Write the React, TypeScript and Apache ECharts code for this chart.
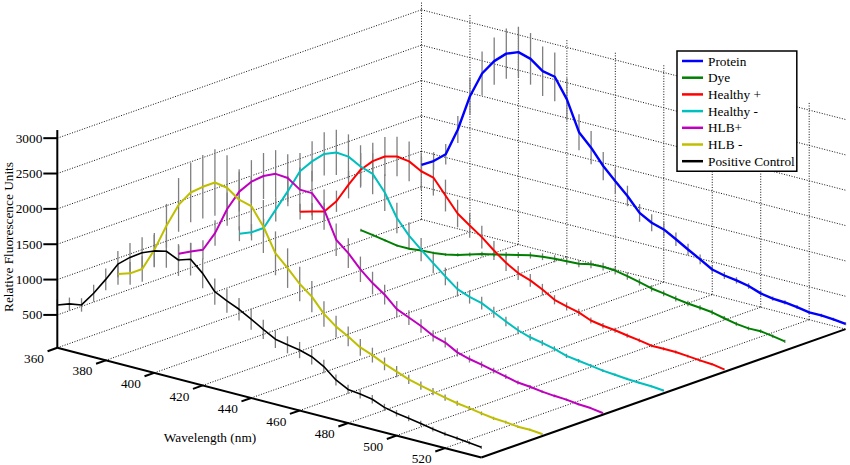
import React, { useEffect, useRef } from "react";
import * as echarts from "echarts";

// ---------------- data ----------------
const wavelengths = [360, 365, 370, 375, 380, 385, 390, 395, 400, 405, 410, 415, 420, 425, 430, 435, 440, 445, 450, 455, 460, 465, 470, 475, 480, 485, 490, 495, 500, 505, 510, 515, 520, 525, 530, 535];
const wavelengthTicks = [360, 380, 400, 420, 440, 460, 480, 500, 520];
const fluorescenceTicks = [500, 1000, 1500, 2000, 2500, 3000];

const seriesNames = ["Protein", "Dye", "Healthy +", "Healthy -", "HLB+", "HLB -", "Positive Control"];
const seriesColors = ["#0000ff", "#008000", "#ff0000", "#00bfbf", "#bf00bf", "#bfbf00", "#000000"];
const seriesDepth = [7, 6, 5, 4, 3, 2, 1];

const protein = [805, 905, 1045, 1440, 1955, 2320, 2540, 2690, 2755, 2705, 2575, 2540, 2265, 1845, 1670, 1455, 1285, 1120, 925, 830, 780, 685, 585, 490, 390, 350, 325, 290, 230, 200, 190, 170, 140, 140, 130, 110];
const proteinErr = [110, 125, 145, 190, 260, 310, 335, 355, 360, 365, 350, 345, 300, 255, 235, 200, 180, 145, 125, 120, 105, 95, 80, 70, 55, 50, 45, 40, 35, 30, 30, 28, 25, 25, 22, 20];

const dye = [185, 160, 130, 100, 100, 120, 130, 150, 190, 240, 290, 330, 370, 410, 450, 475, 490, 500, 510, 545, 555, 545, 510, 470, 425, 400, 370, 345, 330, 310, 270, 235, 215, 220, 195, 165];
const dyeErr = [20, 18, 16, 15, 15, 16, 18, 20, 24, 28, 32, 36, 40, 42, 45, 48, 50, 50, 52, 55, 55, 55, 52, 48, 45, 42, 40, 38, 36, 34, 30, 28, 26, 26, 24, 22];

const healthyPos = [750, 795, 840, 1030, 1310, 1565, 1730, 1840, 1885, 1860, 1765, 1720, 1510, 1300, 1175, 1055, 910, 780, 680, 620, 535, 435, 385, 345, 275, 245, 225, 195, 170, 140, 140, 140, 125, 110, 100, 70];
const healthyPosErr = [110, 120, 125, 150, 195, 235, 260, 275, 280, 280, 265, 255, 225, 195, 175, 160, 135, 115, 100, 90, 80, 65, 58, 52, 42, 38, 34, 30, 26, 22, 22, 22, 20, 18, 16, 12];

const healthyNeg = [740, 805, 910, 1215, 1520, 1845, 2030, 2180, 2245, 2230, 2135, 2075, 1855, 1540, 1335, 1180, 1035, 890, 755, 690, 645, 560, 475, 395, 340, 305, 265, 210, 185, 160, 135, 120, 105, 95, 90, 75];
const healthyNegErr = [105, 115, 130, 170, 215, 260, 285, 305, 320, 315, 300, 290, 260, 215, 190, 165, 145, 125, 105, 95, 90, 78, 66, 55, 48, 42, 37, 30, 26, 22, 20, 18, 16, 14, 13, 12];

const hlbPos = [760, 835, 905, 1185, 1570, 1860, 2045, 2170, 2245, 2230, 2110, 2105, 1915, 1535, 1390, 1205, 1055, 935, 775, 700, 625, 530, 480, 385, 335, 300, 260, 220, 180, 165, 140, 125, 115, 95, 85, 60];
const hlbPosErr = [115, 125, 135, 180, 235, 280, 305, 325, 335, 335, 315, 315, 285, 230, 210, 180, 160, 140, 115, 105, 95, 80, 72, 58, 50, 45, 40, 33, 27, 25, 21, 19, 17, 15, 13, 10];

const hlbNeg = [775, 830, 935, 1250, 1635, 1975, 2195, 2320, 2425, 2395, 2270, 2225, 1980, 1645, 1480, 1300, 1165, 965, 830, 735, 625, 560, 480, 415, 350, 305, 265, 225, 190, 165, 135, 110, 100, 80, 80, 65];
const hlbNegErr = [150, 160, 180, 240, 310, 380, 420, 450, 470, 460, 430, 420, 375, 310, 280, 245, 220, 180, 155, 140, 120, 105, 90, 80, 66, 58, 50, 43, 36, 31, 26, 21, 19, 15, 15, 12];

const positiveControl = [640, 700, 730, 940, 1180, 1440, 1580, 1690, 1760, 1800, 1720, 1775, 1620, 1405, 1320, 1245, 1150, 1050, 955, 920, 890, 840, 745, 600, 510, 490, 460, 390, 350, 325, 295, 260, 235, 220, 200, 180];
const positiveControlErr = [85, 90, 95, 120, 155, 185, 205, 220, 230, 235, 225, 230, 210, 185, 170, 160, 150, 135, 125, 120, 115, 110, 95, 78, 66, 64, 60, 50, 45, 42, 38, 34, 30, 28, 26, 23];

const seriesValues = [protein, dye, healthyPos, healthyNeg, hlbPos, hlbNeg, positiveControl];
const seriesErrors = [proteinErr, dyeErr, healthyPosErr, healthyNegErr, hlbPosErr, hlbNegErr, positiveControlErr];

// ---------------- 3D box (axis limits) and projection ----------------
const WL_MIN = 360;
const WL_MAX = 535;
const DEPTH_MIN = 1;
const DEPTH_MAX = 7;
const Z_MIN = 35;
const Z_MAX = 3115;

const ORIGIN_X = 57.3;
const ORIGIN_Y = 347.8;
const WL_DX = 2.423;
const WL_DY = 0.627;
const DEPTH_DX = 60.7;
const DEPTH_DY = -21.4;
const Z_DY = -0.0707;

function project(wl: number, d: number, z: number): number[] {
  return [
    ORIGIN_X + (wl - WL_MIN) * WL_DX + (d - DEPTH_MIN) * DEPTH_DX,
    ORIGIN_Y + (wl - WL_MIN) * WL_DY + (d - DEPTH_MIN) * DEPTH_DY + (z - Z_MIN) * Z_DY,
  ];
}

const FONT = "'Liberation Serif', 'Times New Roman', Times, serif";
const FONT_SIZE = 13.3;

export default function App() {
  const ref = useRef<HTMLDivElement>(null);

  useEffect(() => {
    document.body.style.margin = "0";
    if (!ref.current) return;
    const chart = echarts.init(ref.current, undefined, { renderer: "svg" });

    const seg = (api: any, p: number[], q: number[], style: any) => {
      const a = api.coord(p);
      const b = api.coord(q);
      return { type: "line", shape: { x1: a[0], y1: a[1], x2: b[0], y2: b[1] }, style };
    };

    const dotted = { stroke: "#111", lineWidth: 1, lineDash: [1, 1.6] };
    const solid = { stroke: "#000", lineWidth: 2 };

    const gridSeries: any = {
      type: "custom",
      name: "grid",
      silent: true,
      z: 1,
      data: [[0, 0]],
      renderItem: (_p: any, api: any) => {
        const children: any[] = [];
        wavelengthTicks.forEach((t) => {
          children.push(seg(api, project(t, DEPTH_MIN, Z_MIN), project(t, DEPTH_MAX, Z_MIN), dotted));
          children.push(seg(api, project(t, DEPTH_MAX, Z_MIN), project(t, DEPTH_MAX, Z_MAX), dotted));
        });
        children.push(seg(api, project(WL_MIN, DEPTH_MAX, Z_MIN), project(WL_MAX, DEPTH_MAX, Z_MIN), dotted));
        fluorescenceTicks.forEach((t) => {
          children.push(seg(api, project(WL_MIN, DEPTH_MIN, t), project(WL_MIN, DEPTH_MAX, t), dotted));
          children.push(seg(api, project(WL_MIN, DEPTH_MAX, t), project(WL_MAX, DEPTH_MAX, t), dotted));
        });
        return { type: "group", children };
      },
    };

    const textStyle = (text: string, align: string) => ({
      text,
      fill: "#000",
      fontFamily: FONT,
      fontSize: FONT_SIZE,
      align,
      verticalAlign: "middle",
      textAlign: align,
      textVerticalAlign: "middle",
    });

    const axesSeries: any = {
      type: "custom",
      name: "axes",
      silent: true,
      z: 5,
      data: [[0, 0]],
      renderItem: (_p: any, api: any) => {
        const children: any[] = [];
        children.push(seg(api, project(WL_MIN, DEPTH_MIN, Z_MIN), project(WL_MAX, DEPTH_MIN, Z_MIN), solid));
        children.push(seg(api, project(WL_MAX, DEPTH_MIN, Z_MIN), project(WL_MAX, DEPTH_MAX, Z_MIN), solid));
        children.push(seg(api, project(WL_MIN, DEPTH_MIN, Z_MIN), project(WL_MIN, DEPTH_MIN, Z_MAX), solid));
        wavelengthTicks.forEach((t) => {
          const p = api.coord(project(t, DEPTH_MIN, Z_MIN));
          children.push({ type: "line", shape: { x1: p[0], y1: p[1], x2: p[0] - 9.7, y2: p[1] + 3.4 }, style: solid });
          children.push({ type: "text", x: p[0] - 23.3, y: p[1] + 10.6, style: textStyle(String(t), "center") });
        });
        fluorescenceTicks.forEach((t) => {
          const p = api.coord(project(WL_MIN, DEPTH_MIN, t));
          children.push({ type: "line", shape: { x1: p[0], y1: p[1], x2: p[0] - 14, y2: p[1] }, style: solid });
          children.push({ type: "text", x: p[0] - 15, y: p[1], style: textStyle(String(t), "right") });
        });
        children.push({ type: "text", x: 210, y: 437, style: textStyle("Wavelength (nm)", "center") });
        children.push({
          type: "text",
          x: 8,
          y: 237,
          rotation: Math.PI / 2,
          style: textStyle("Relative Fluorescence Units", "center"),
        });
        return { type: "group", children };
      },
    };

    const errorSeries: any[] = seriesNames.map((name, k) => ({
      type: "custom",
      name: name + " error",
      silent: true,
      z: 2,
      data: wavelengths.map((wl, i) => [wl, seriesDepth[k], seriesValues[k][i] - seriesErrors[k][i], seriesValues[k][i] + seriesErrors[k][i]]),
      renderItem: (_p: any, api: any) => {
        const wl = api.value(0);
        const d = api.value(1);
        return seg(api, project(wl, d, api.value(2)), project(wl, d, api.value(3)), { stroke: "#7f7f7f", lineWidth: 1.3 });
      },
    }));

    const lineSeries: any[] = seriesNames.map((name, k) => ({
      type: "line",
      name,
      z: 3,
      showSymbol: false,
      symbol: "none",
      silent: true,
      data: wavelengths.map((wl, i) => project(wl, seriesDepth[k], seriesValues[k][i])),
      lineStyle: { color: seriesColors[k], width: k === 6 ? 1.6 : k === 0 ? 2.4 : 2 },
      itemStyle: { color: seriesColors[k] },
    }));

    chart.setOption({
      animation: false,
      textStyle: { fontFamily: FONT },
      grid: { left: 0, right: 0, top: 0, bottom: 0 },
      xAxis: { type: "value", min: 0, max: 850, show: false },
      yAxis: { type: "value", min: 0, max: 465, inverse: true, show: false },
      legend: {
        data: seriesNames,
        orient: "vertical",
        left: 677,
        top: 51,
        icon: "rect",
        itemWidth: 21,
        itemHeight: 2.5,
        itemGap: 2.7,
        padding: [3, 2, 3, 5],
        backgroundColor: "#fff",
        borderColor: "#000",
        borderWidth: 1.5,
        selectedMode: false,
        textStyle: { fontFamily: FONT, fontSize: FONT_SIZE, color: "#000", lineHeight: 14 },
      },
      series: [gridSeries, ...errorSeries, ...lineSeries, axesSeries],
    });

    return () => chart.dispose();
  }, []);

  return <div ref={ref} style={{ width: 850, height: 465 }} />;
}
